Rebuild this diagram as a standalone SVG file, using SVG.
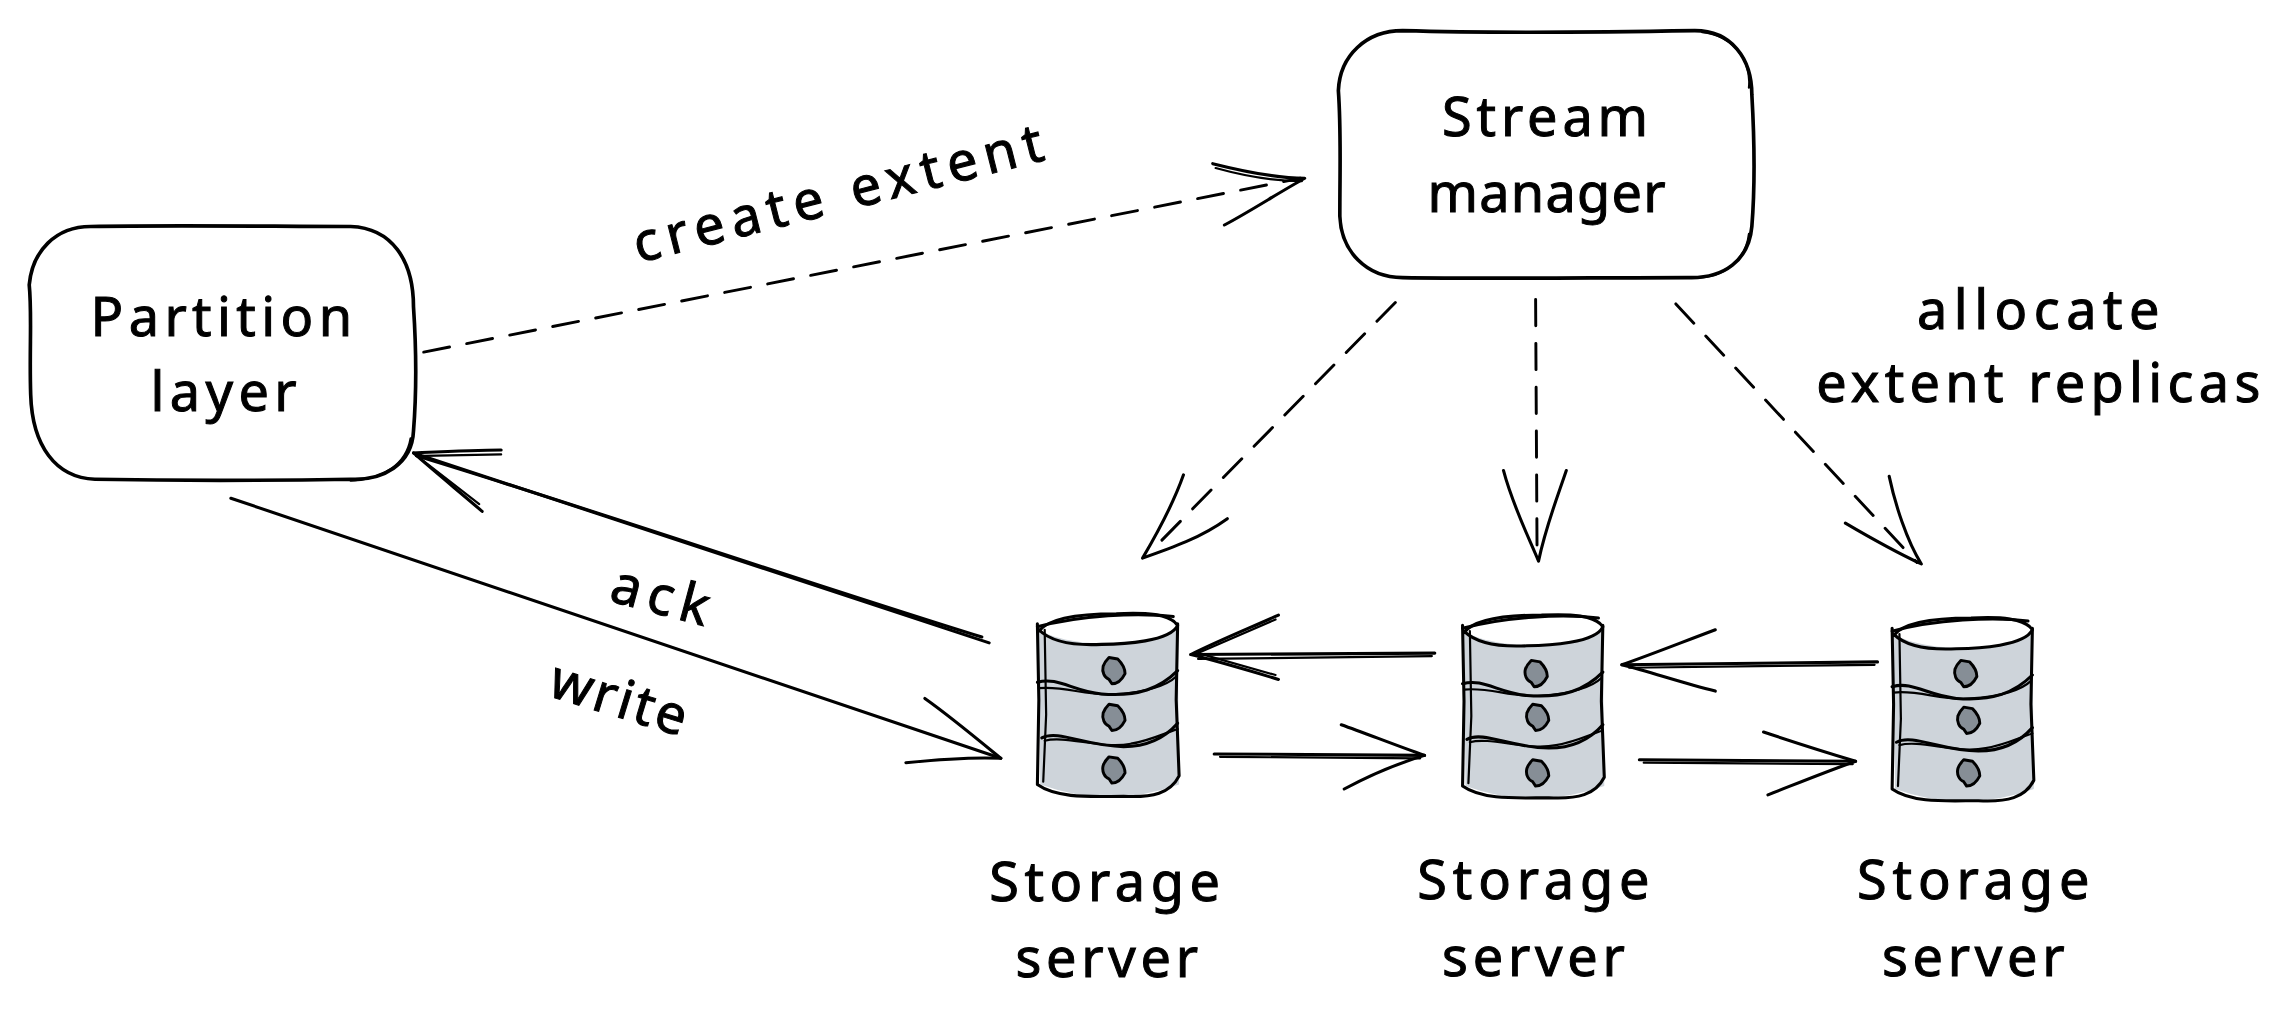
<svg xmlns="http://www.w3.org/2000/svg" xmlns:xlink="http://www.w3.org/1999/xlink" width="2291" height="1024" viewBox="0 0 2291 1024">
<style>
.s{fill:none;stroke:#000;stroke-width:2.1;stroke-linecap:round;stroke-linejoin:round}
.thin{stroke-width:1.5}
.d{stroke-dasharray:18 12;stroke-width:2}
.b{fill:#fff;stroke:#000;stroke-width:2.5;stroke-linecap:round;stroke-linejoin:round}
.c{fill:#ced4da;stroke:none}
.h{fill:#868e96;stroke:#000;stroke-width:2;stroke-linejoin:round}
.t{font-family:"Noto Sans","Open Sans",sans-serif;font-size:37px;fill:#000;stroke:#000;stroke-width:.7}
</style>
<defs>
<g id="cyl">
<path class="c" d="M2 12 L97 12 L98 118 Q50 135 3 118Z"/>
<path d="M2 12C25-2 75-2 97 10C85 24 25 26 2 12Z" fill="#fff" stroke="none"/>
<path class="s" d="M2 13C10 2 40 1 55 1C75 0 92 1 97 9C92 20 60 22 45 22C25 23 10 20 2 12"/>
<path class="s" d="M1 10C30 2 70 0 94 3"/>
<path class="s" d="M1 8L2 60L1 118C15 128 40 126 60 126C80 127 92 124 98 112L96 60L97 8"/>
<path class="s thin" d="M6 12L7 70L5 116"/>
<path class="s" d="M1 48C15 44 25 54 45 56C70 58 85 52 97 40"/>
<path class="s thin" d="M2 52C20 50 35 58 55 56C75 55 90 50 96 44"/>
<path class="s" d="M4 86C15 80 35 92 60 92C78 92 90 84 97 76"/>
<path class="s thin" d="M6 88C20 84 45 94 65 90C78 88 90 82 97 80"/>
</g>
<path id="hole1" class="h" d="M-3-9L3-8C6-5 8-2 8 2C6 6 3 9-1 9L-3 6C-6 5-8 1-7-3C-6-6-5-7-3-9Z"/>
</defs>
<g transform="scale(1.4611)">
<g id="connectors">
<path class="s d" d="M290 241L890 122"/>
<path class="s" d="M830 112C850 117 875 122 893 122C875 132 855 145 838 154"/>
<path class="s thin" d="M832 115C850 120 870 124 891 124"/>
<path class="s d" d="M955 207L790 375"/>
<path class="s" d="M810 325C803 345 792 365 782 382C802 375 822 368 840 355"/>
<path class="s d" d="M1051 205L1052 380"/>
<path class="s" d="M1029 322C1035 345 1045 365 1053 384C1058 360 1066 340 1072 322"/>
<path class="s d" d="M1147 208L1312 385"/>
<path class="s" d="M1293 326C1297 345 1305 370 1315 386C1298 378 1280 368 1263 358"/>
<path class="s" d="M677 440L283 310"/>
<path class="s" d="M672 436C540 395 410 350 285 312"/>
<path class="s" d="M343 308C325 308 305 309 283 310C300 325 315 337 330 350"/>
<path class="s thin" d="M343 311L290 312M328 345L288 314"/>
<path class="s" d="M158 341L685 519"/>
<path class="s" d="M633 478C650 490 668 505 685 519C665 518 640 520 620 522"/>
<path class="s" d="M982 447L815 448"/>
<path class="s thin" d="M980 449L820 451"/>
<path class="s" d="M875 421C855 430 835 438 815 448C835 453 855 459 875 465"/>
<path class="s thin" d="M873 424L820 447L873 462"/>
<path class="s" d="M831 516L975 517"/>
<path class="s thin" d="M835 518L972 519"/>
<path class="s" d="M918 496C935 502 955 510 975 517C955 523 935 532 920 540"/>
<path class="s" d="M1285 453L1110 455"/>
<path class="s thin" d="M1283 455L1115 457"/>
<path class="s" d="M1174 431C1150 440 1130 448 1110 455C1130 460 1150 467 1174 473"/>
<path class="s" d="M1122 520L1270 521"/>
<path class="s thin" d="M1125 522L1268 523"/>
<path class="s" d="M1207 501C1228 508 1250 515 1270 521C1250 528 1228 537 1210 544"/>
</g>
<g id="stream-manager">
<path class="b" d="M960 21C1030 23 1100 22 1160 21C1185 21 1199 40 1199 65C1201 100 1201 130 1199 155C1197 178 1180 191 1155 190C1090 190 1020 191 960 190C935 190 918 172 917 148C917 115 918 90 916 62C917 38 935 21 960 21Z"/>
<path class="s thin" d="M1197 60C1199 40 1185 24 1165 22M1197 160C1195 178 1180 190 1160 190"/>
<text class="t" x="987" y="93" textLength="141" lengthAdjust="spacing">Stream</text>
<text class="t" x="977" y="145" textLength="163" lengthAdjust="spacing">manager</text>
</g>
<g id="partition-layer">
<path class="b" d="M62 155C120 154 190 155 240 155C268 156 283 178 283 210C285 240 285 270 283 295C282 318 262 329 240 328C180 329 120 329 65 328C38 327 22 305 21 270C20 240 22 215 20 195C22 172 38 155 62 155Z"/>
<path class="s thin" d="M281 300C278 318 262 328 240 329"/>
<text class="t" x="62" y="230" textLength="179" lengthAdjust="spacing">Partition</text>
<text class="t" x="103" y="281" textLength="100" lengthAdjust="spacing">layer</text>
</g>
<g id="label-create"><text class="t" transform="translate(437 180) rotate(-14.2)" textLength="288" lengthAdjust="spacing">create extent</text></g>
<g id="label-ack"><text class="t" transform="translate(416 411) rotate(15)" textLength="68" lengthAdjust="spacing">ack</text></g>
<g id="label-write"><text class="t" transform="translate(374 476) rotate(17)" textLength="96" lengthAdjust="spacing">write</text></g>
<g id="label-allocate">
<text class="t" x="1312" y="225" textLength="166" lengthAdjust="spacing">allocate</text>
<text class="t" x="1243" y="275" textLength="304" lengthAdjust="spacing">extent replicas</text>
</g>
<g id="storage-1">
<use xlink:href="#cyl" href="#cyl" x="709" y="419"/>
<use xlink:href="#hole1" href="#hole1" x="762" y="459"/>
<use xlink:href="#hole1" href="#hole1" x="762" y="491"/>
<use xlink:href="#hole1" href="#hole1" x="762" y="527"/>
<text class="t" x="677" y="617" textLength="158" lengthAdjust="spacing">Storage</text>
<text class="t" x="695" y="669" textLength="125" lengthAdjust="spacing">server</text>
</g>
<g id="storage-2">
<use xlink:href="#cyl" href="#cyl" x="1000" y="420"/>
<use xlink:href="#hole1" href="#hole1" x="1051" y="461"/>
<use xlink:href="#hole1" href="#hole1" x="1052" y="491"/>
<use xlink:href="#hole1" href="#hole1" x="1052" y="529"/>
<text class="t" x="970" y="615" textLength="159" lengthAdjust="spacing">Storage</text>
<text class="t" x="987" y="668" textLength="125" lengthAdjust="spacing">server</text>
</g>
<g id="storage-3">
<use xlink:href="#cyl" href="#cyl" x="1294" y="422"/>
<use xlink:href="#hole1" href="#hole1" x="1345" y="461"/>
<use xlink:href="#hole1" href="#hole1" x="1347" y="493"/>
<use xlink:href="#hole1" href="#hole1" x="1347" y="529"/>
<text class="t" x="1271" y="615" textLength="159" lengthAdjust="spacing">Storage</text>
<text class="t" x="1288" y="668" textLength="125" lengthAdjust="spacing">server</text>
</g>
</g>
</svg>
